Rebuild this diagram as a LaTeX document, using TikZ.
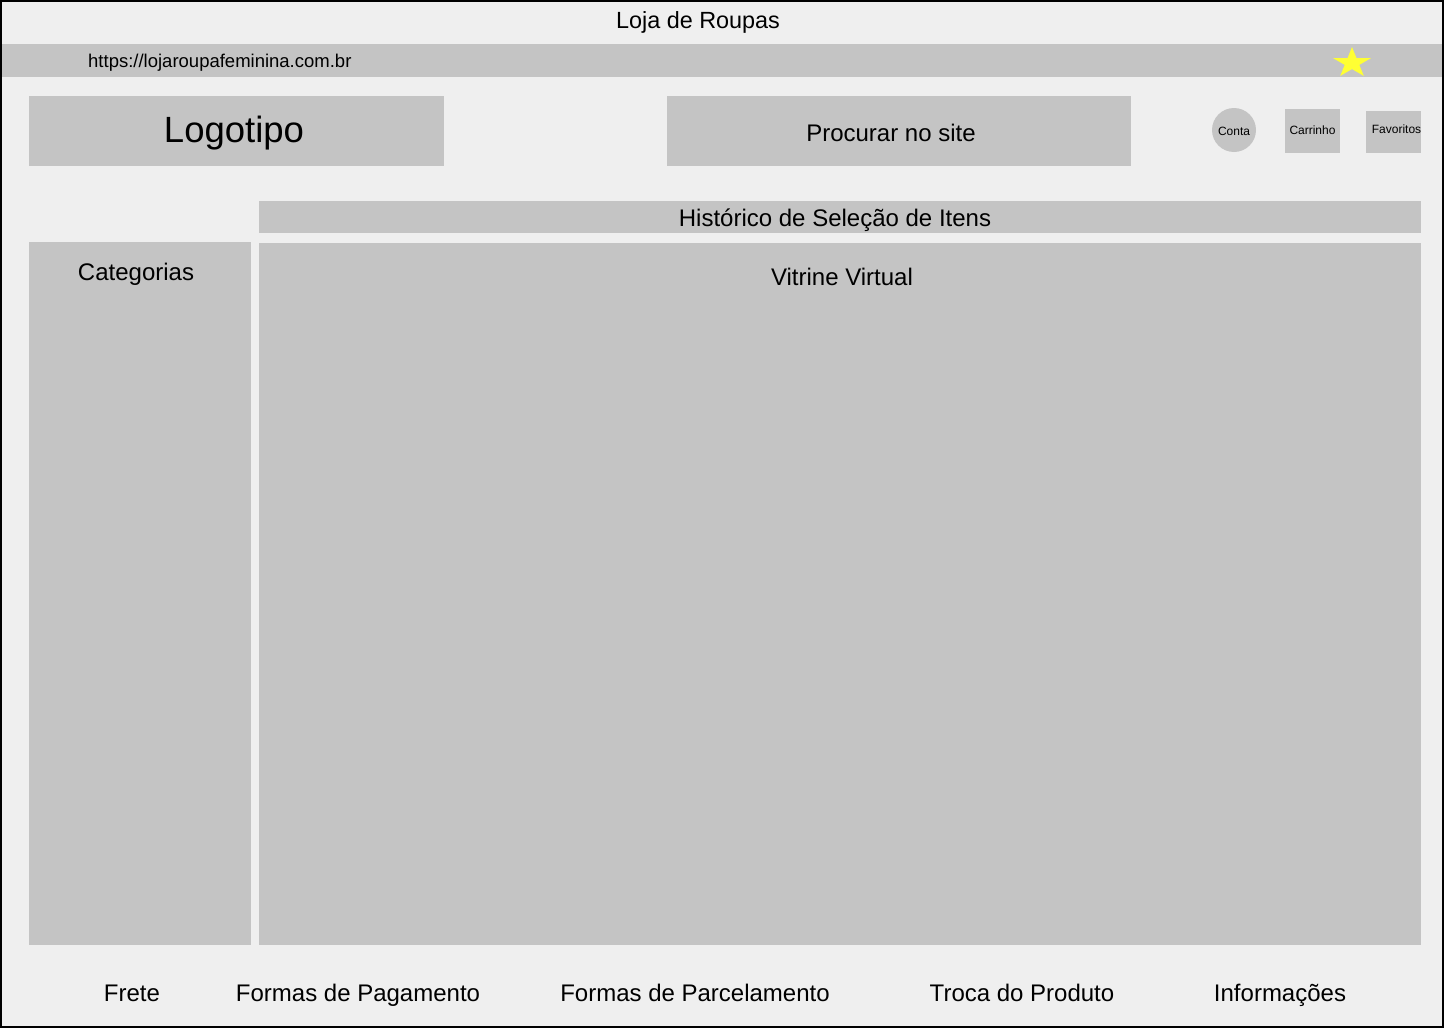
\documentclass[tikz,border=0pt]{standalone}
\usepackage{fontspec}
\setmainfont{Liberation Sans}
\definecolor{bggray}{HTML}{EFEFEF}
\definecolor{boxgray}{HTML}{C4C4C4}
\definecolor{staryellow}{HTML}{FFFF33}
\begin{document}
\begin{tikzpicture}[x=1pt,y=-1pt,
  box/.style={fill=boxgray,draw=none,inner sep=0pt,anchor=north west},
  txt/.style={inner sep=0pt,anchor=base,font=\fontsize{24}{28}\selectfont},
  small/.style={inner sep=0pt,anchor=base,font=\fontsize{12}{14}\selectfont}]
\useasboundingbox (0,0) rectangle (1444,1028);
\fill[bggray] (0,0) rectangle (1444,1028);
% URL bar
\node[box,minimum width=1444pt,minimum height=33pt] (urlbar) at (0,44) {};
\node[inner sep=0pt,anchor=base west,font=\fontsize{18.5}{22}\selectfont] (url) at (88,67) {https://lojaroupafeminina.com.br};
\fill[staryellow] (1352,47) -- (1356.5,58.1) -- (1371,58.1) -- (1359.3,64.9) -- (1363.8,75.9) -- (1352,69.1) -- (1340.2,75.9) -- (1344.7,64.9) -- (1333,58.1) -- (1347.5,58.1) -- cycle;
% title
\node[txt,font=\fontsize{23.4}{28}\selectfont] (title) at (698,28) {Loja de Roupas};
% header boxes
\node[box,minimum width=415pt,minimum height=70pt] (logo) at (29,96) {};
\node[inner sep=0pt,anchor=base,font=\fontsize{36.5}{40}\selectfont] (logotxt) at (234,142) {Logotipo};
\node[box,minimum width=464pt,minimum height=70pt] (search) at (667,96) {};
\node[txt] (searchtxt) at (891,141) {Procurar no site};
\node[circle,fill=boxgray,inner sep=0pt,minimum size=44pt] (conta) at (1234,130) {};
\node[small] (contatxt) at (1234,135) {Conta};
\node[box,minimum width=55pt,minimum height=44pt] (cart) at (1285,109) {};
\node[small] (carttxt) at (1312.5,134.3) {Carrinho};
\node[box,minimum width=55pt,minimum height=42pt] (fav) at (1366,111) {};
\node[small] (favtxt) at (1396.5,133.3) {Favoritos};
% history bar
\node[box,minimum width=1162pt,minimum height=32pt] (hist) at (259,201) {};
\node[txt] (histtxt) at (835,226) {Histórico de Seleção de Itens};
% categories
\node[box,minimum width=222pt,minimum height=703pt] (cat) at (29,242) {};
\node[txt] (cattxt) at (136,280) {Categorias};
% showcase
\node[box,minimum width=1162pt,minimum height=702pt] (vit) at (259,243) {};
\node[txt] (vittxt) at (842,285) {Vitrine Virtual};
% footer
\node[txt] (f1) at (132,1001) {Frete};
\node[txt] (f2) at (358,1001) {Formas de Pagamento};
\node[txt] (f3) at (695,1001) {Formas de Parcelamento};
\node[txt] (f4) at (1022,1001) {Troca do Produto};
\node[txt] (f5) at (1280,1001) {Informações};
% border
\draw[line width=2pt] (1,1) rectangle (1443,1027);
\end{tikzpicture}
\end{document}
